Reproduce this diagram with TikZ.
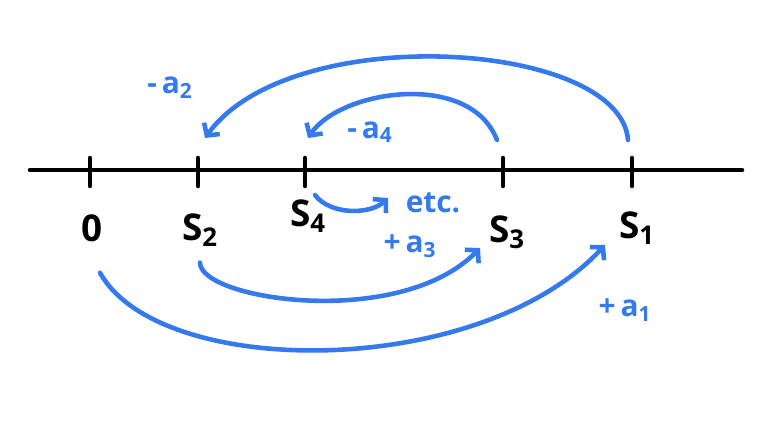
\documentclass[tikz,border=0pt]{standalone}
\usepackage{fontspec}
\setmainfont{Open Sans}
\usetikzlibrary{arrows.meta}
\definecolor{penblue}{RGB}{52,122,238}
\begin{document}
\begin{tikzpicture}[x=0.02cm,y=-0.02cm,
    tick/.style={line width=2.6pt,line cap=round},
    pt/.style={font=\fontsize{21}{24}\selectfont\bfseries},
    hop/.style={penblue,line width=2.6pt,line cap=round,-{Straight Barb[length=5pt,width=11pt]}},
    hoplabel/.style={penblue,font=\fontsize{17}{20}\selectfont\bfseries}]
      \useasboundingbox (0,0) rectangle (770,420);
      \draw[tick] (30,170) -- (742,170);
      \foreach \x in {90,198,305,503,632}
        \draw[tick] (\x,158) -- (\x,186);

      \node[pt] (zero) at (92,228) {0};
      \node[pt] (s2) at (200,230) {S\textsubscript{2}};
      \node[pt] (s4) at (308,216) {S\textsubscript{4}};
      \node[pt] (s3) at (507,232) {S\textsubscript{3}};
      \node[pt] (s1) at (637,228) {S\textsubscript{1}};

      \coordinate (a2from) at (628,140);
      \coordinate (a2to) at (205,138);
      \coordinate (a4from) at (497,140);
      \coordinate (a4to) at (308,138);
      \coordinate (etcfrom) at (315,195);
      \coordinate (etcto) at (388,198);

      \draw[hop] (a2from) .. controls (620,40) and (290,20) .. (a2to);
      \draw[hop] (a4from) .. controls (470,70) and (340,90) .. (a4to);
      \draw[hop] (etcfrom) .. controls (330,215) and (370,215) .. (etcto);
      \draw[hop] (s2.south) ++(0,10) .. controls (200,300) and (400,330) .. (480,248);
      \draw[hop] (zero.south) ++(8,25) .. controls (160,380) and (480,380) .. (605,245);

      \node[hoplabel] (la2) at (170,88) {-\,a\textsubscript{2}};
      \node[hoplabel] (la4) at (370,132) {-\,a\textsubscript{4}};
      \node[hoplabel] (letc) at (433,203) {etc.};
      \node[hoplabel] (la3) at (410,246) {+\,a\textsubscript{3}};
      \node[hoplabel] (la1) at (625,310) {+\,a\textsubscript{1}};
\end{tikzpicture}
\end{document}
